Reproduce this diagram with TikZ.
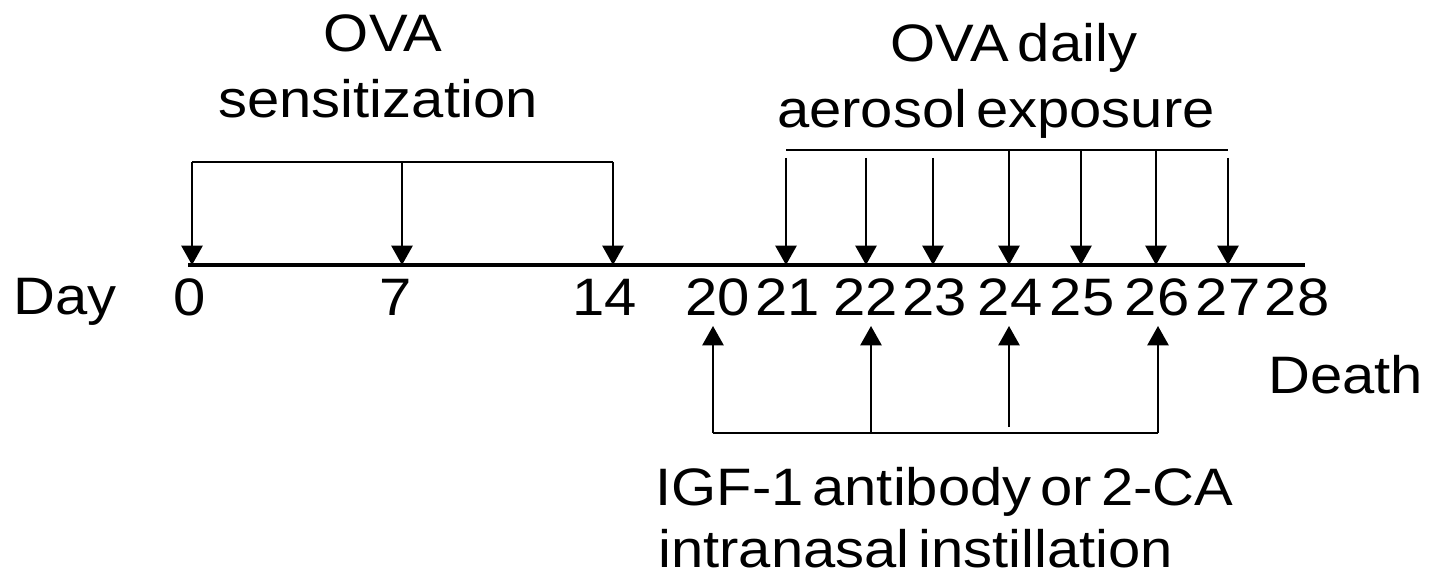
\documentclass[tikz,border=0pt]{standalone}
\usepackage{fontspec}
\setmainfont{Liberation Sans}[FakeStretch=1.1]
\usetikzlibrary{arrows.meta}

\newcommand\lblfont{\fontsize{30}{36}\selectfont\spaceskip=0.17em\relax}
\tikzset{
  txt/.style={font=\lblfont, inner sep=0pt},
  arr/.style={-{Triangle[length=11pt, width=12pt]}, line width=1.3pt},
  bar/.style={line width=1.3pt},
  axis/.style={line width=2.4pt}
}

\begin{document}
\begin{tikzpicture}[x=0.02cm, y=-0.02cm]
  \useasboundingbox (0,0) rectangle (1441,581);

  % Osa
  \coordinate (a0) at (188,265);
  \coordinate (a1) at (1305,265);
  \draw[axis] (a0) -- (a1);
  \node[txt, anchor=base west] (day) at (13,314) {Day};
  \foreach \d/\x in {0/190, 7/396, 14/605, 20/718, 21/788, 22/866, 23/935,
                     24/1010, 25/1082, 26/1157, 27/1228, 28/1297}
    \node[txt, anchor=base] (n\d) at (\x,315) {\d};
  \node[txt, anchor=base west] (death) at (1268,393) {Death};

  % Senzitizace
  \node[txt, anchor=base] (sens1) at (383,52) {OVA};
  \node[txt, anchor=base] (sens2) at (378,118) {sensitization};
  \foreach \d/\x in {0/192, 7/402, 14/613} {
    \coordinate (s\d) at (\x,162);
    \coordinate (t\d) at (\x,265);
    \draw[arr] (s\d) -- (t\d);
  }
  \draw[bar] (s0) -- (s14);

  % Aerosol
  \node[txt, anchor=base] (aer1) at (1014,62) {OVA daily};
  \node[txt, anchor=base] (aer2) at (996,128) {aerosol exposure};
  \coordinate (e0) at (786,150);
  \coordinate (e1) at (1228,150);
  \draw[bar] (e0) -- (e1);
  \foreach \d/\x/\y in {21/786/158, 22/866/158, 23/933/158, 24/1009/150,
                        25/1081/150, 26/1156/150, 27/1228/158} {
    \coordinate (e\d) at (\x,\y);
    \coordinate (t\d) at (\x,265);
    \draw[arr] (e\d) -- (t\d);
  }

  % Instilace
  \coordinate (b0) at (713,433);
  \coordinate (b1) at (1158,433);
  \draw[bar] (b0) -- (b1);
  \foreach \d/\x/\y in {20/713/433, 22/871/433, 24/1009/427, 26/1158/433} {
    \coordinate (b\d) at (\x,\y);
    \coordinate (u\d) at (\x,326);
    \draw[arr] (b\d) -- (u\d);
  }
  \node[txt, anchor=base west] (ins1) at (655,505) {IGF-1 antibody or 2-CA};
  \node[txt, anchor=base west] (ins2) at (658,567) {intranasal instillation};
\end{tikzpicture}
\end{document}
